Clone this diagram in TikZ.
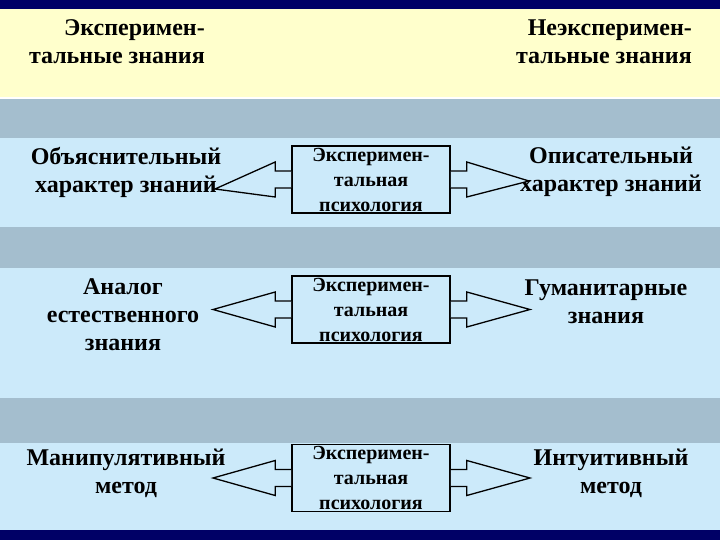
\documentclass[tikz,border=0pt]{standalone}
\usepackage{fontspec}
\setmainfont{Liberation Serif}
\usetikzlibrary{positioning}

\definecolor{navyband}{RGB}{0,0,102}
\definecolor{headyellow}{RGB}{255,255,204}
\definecolor{grayband}{RGB}{164,190,206}
\definecolor{lightband}{RGB}{204,234,250}

\tikzset{
  bigtext/.style={font=\bfseries\fontsize{24}{28}\selectfont, align=center, inner sep=0pt},
  psybox/.style={draw, line width=1.6pt, fill=lightband, minimum width=158pt, minimum height=67pt,
    align=center, inner sep=0pt, font=\bfseries\fontsize{20}{25}\selectfont},
  fatarrow/.style={draw, line width=1.3pt, fill=lightband, line join=miter},
}

\begin{document}
\begin{tikzpicture}[x=1pt, y=-1pt]

    % Draw bands
    \fill [navyband] (0,0) rectangle (720,540);
    \fill [headyellow] (0,9) rectangle (720,97);
    \fill [white] (0,97) rectangle (720,99);
    \fill [grayband] (0,99) rectangle (720,138);
    \fill [lightband] (0,138) rectangle (720,227);
    \fill [grayband] (0,227) rectangle (720,268);
    \fill [lightband] (0,268) rectangle (720,398);
    \fill [grayband] (0,398) rectangle (720,443);
    \fill [lightband] (0,443) rectangle (720,530);

    % Draw headers
    \node [bigtext, align=right, anchor=east] (expknow) at (205,42) {Эксперимен-\\тальные знания};
    \node [bigtext, align=right, anchor=east] (nonexpknow) at (692,42) {Неэксперимен-\\тальные знания};

    % Draw boxes
    \node [psybox] (psy1) at (371,179.5) {Эксперимен-\\тальная\\психология};
    \node [psybox] (psy2) at (371,309.5) {Эксперимен-\\тальная\\психология};
    \node [psybox] (psy3) at (371,478) {Эксперимен-\\тальная\\психология};

    % Draw side texts
    \node [bigtext] (explain) at (126,172) {Объяснительный\\характер знаний};
    \node [bigtext] (describe) at (611,172) {Описательный\\характер знаний};
    \node [bigtext] (natural) at (123,315) {Аналог\\естественного\\знания};
    \node [bigtext] (human) at (606,302) {Гуманитарные\\знания};
    \node [bigtext] (manip) at (126,473) {Манипулятивный\\метод};
    \node [bigtext] (intuit) at (611,473) {Интуитивный\\метод};

    % Draw arrow tips
    \coordinate (tipL1) at (215,189);
    \coordinate (tipR1) at (529,181);
    \coordinate (tipL2) at (213,309.5);
    \coordinate (tipR2) at (530,309.5);
    \coordinate (tipL3) at (213,478);
    \coordinate (tipR3) at (530,478);

    % Draw arrows
    \draw [fatarrow] ([shift={(0,-8.5)}]psy1.west) -- ++(-16,0) -- ++(0,-9) -- (tipL1)
        -- ([shift={(-16,17.5)}]psy1.west) -- ++(0,-9) -- ++(16,0);
    \draw [fatarrow] ([shift={(0,-8.5)}]psy1.east) -- ++(16,0) -- ++(0,-9) -- (tipR1)
        -- ([shift={(16,17.5)}]psy1.east) -- ++(0,-9) -- ++(-16,0);
    \draw [fatarrow] ([shift={(0,-8.5)}]psy2.west) -- ++(-16,0) -- ++(0,-9) -- (tipL2)
        -- ([shift={(-16,17.5)}]psy2.west) -- ++(0,-9) -- ++(16,0);
    \draw [fatarrow] ([shift={(0,-8.5)}]psy2.east) -- ++(16,0) -- ++(0,-9) -- (tipR2)
        -- ([shift={(16,17.5)}]psy2.east) -- ++(0,-9) -- ++(-16,0);
    \draw [fatarrow] ([shift={(0,-8.5)}]psy3.west) -- ++(-16,0) -- ++(0,-9) -- (tipL3)
        -- ([shift={(-16,17.5)}]psy3.west) -- ++(0,-9) -- ++(16,0);
    \draw [fatarrow] ([shift={(0,-8.5)}]psy3.east) -- ++(16,0) -- ++(0,-9) -- (tipR3)
        -- ([shift={(16,17.5)}]psy3.east) -- ++(0,-9) -- ++(-16,0);

\end{tikzpicture}
\end{document}
